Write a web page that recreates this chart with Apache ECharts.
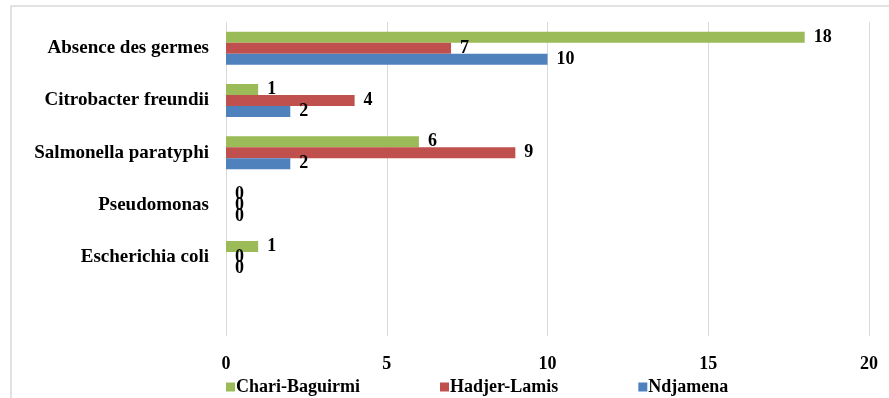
<!DOCTYPE html>
<html>
<head>
<meta charset="utf-8">
<script src="https://cdn.jsdelivr.net/npm/echarts@6/dist/echarts.min.js"></script>
<style>
  html, body { margin: 0; padding: 0; background: #fff; }
  #main { width: 889px; height: 398px; }
</style>
</head>
<body>
<div id="main"></div>
<script>
// categories listed bottom to top (last one empty, like the source)
var categories = ['', 'Escherichia coli', 'Pseudomonas', 'Salmonella paratyphi', 'Citrobacter freundii', 'Absence des germes'];
var chariBaguirmi = [null, 1, 0, 6, 1, 18];
var hadjerLamis = [null, 0, 0, 9, 4, 7];
var ndjamena = [null, 0, 0, 2, 2, 10];
var xTicks = [0, 5, 10, 15, 20];

var font = 'Liberation Serif, Times New Roman, serif';

function makeSeries(name, data, color) {
    return {
        name: name,
        type: 'bar',
        data: data,
        barGap: '0%',
        barCategoryGap: '37%',
        itemStyle: { color: color },
        label: {
            show: true,
            position: 'right',
            distance: 9,
            color: '#000',
            fontFamily: font,
            fontWeight: 'bold',
            fontSize: 18
        }
    };
}

var myChart = echarts.init(document.getElementById('main'));
var option = {
    animation: false,
    backgroundColor: '#fff',
    graphic: [{
        type: 'rect',
        shape: { x: 11, y: 6, width: 900, height: 420 },
        style: { fill: 'none', stroke: '#d9d9d9', lineWidth: 1.5 },
        silent: true
    }],
    grid: { left: 226, right: 20, top: 22, bottom: 62 },
    legend: {
        data: ['Chari-Baguirmi', 'Hadjer-Lamis', 'Ndjamena'],
        left: 221,
        top: 373,
        itemWidth: 9,
        itemHeight: 9,
        itemGap: 80,
        icon: 'rect',
        textStyle: { fontFamily: font, fontWeight: 'bold', fontSize: 18, color: '#000', padding: [0, 0, 0, -4] }
    },
    xAxis: {
        type: 'value',
        min: xTicks[0],
        max: xTicks[xTicks.length - 1],
        interval: 5,
        axisLine: { show: false },
        axisTick: { show: false },
        splitLine: { lineStyle: { color: '#d9d9d9', width: 1 } },
        axisLabel: { margin: 19, fontFamily: font, fontWeight: 'bold', fontSize: 18, color: '#000' }
    },
    yAxis: {
        type: 'category',
        data: categories,
        axisLine: { show: false },
        axisTick: { show: false },
        axisLabel: { margin: 17, fontFamily: font, fontWeight: 'bold', fontSize: 19, color: '#000' }
    },
    series: [
        makeSeries('Chari-Baguirmi', chariBaguirmi, '#9BBB59'),
        makeSeries('Hadjer-Lamis', hadjerLamis, '#C0504D'),
        makeSeries('Ndjamena', ndjamena, '#4F81BD')
    ]
};
myChart.setOption(option);
</script>
</body>
</html>
